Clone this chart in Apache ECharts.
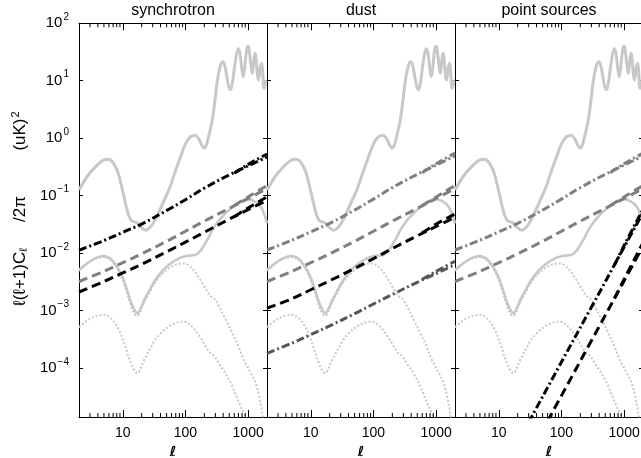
<!DOCTYPE html>
<html><head><meta charset="utf-8">
<script src="https://cdn.jsdelivr.net/npm/echarts@6/dist/echarts.min.js"></script>
<style>html,body{margin:0;padding:0;background:#fff}#c{width:641px;height:458px}</style>
</head><body><div id="c"></div>
<script>
// ---------- data ----------
const panelTitles = ['synchrotron', 'dust', 'point sources'];
const xTickLabels = [10, 100, 1000];
const yTickExponents = [-4, -3, -2, -1, 0, 1, 2];
const minorTickElls = [3,4,5,6,7,8,9,20,30,40,50,60,70,80,90,200,300,400,500,600,700,800,900];

// CMB E-mode spectrum (solid light gray, top)
const ellEE = [2,2.5,3,4,5,5.7,6.5,7.5,8.5,9.8,11,12.2,13.4,15,16.5,19,23,28,33,38,45,55,70,85,101,120,142,160,180,198,215,240,268,295,322,355,387,420,455,490,525,560,600,650,697,740,790,837,880,930,970,1005,1045,1100,1165,1225,1286,1330,1390,1452,1500,1560,1645,1700,1792,1850,1900,2000];
const EE = [0.125,0.19,0.25,0.35,0.42,0.43,0.41,0.33,0.24,0.13,0.075,0.048,0.038,0.035,0.034,0.029,0.025,0.029,0.038,0.053,0.08,0.13,0.28,0.5,0.81,1.05,1.13,1.0,0.78,0.67,0.75,1.2,2.1,4.5,10,17,21.5,19,12,8,7,9,16,28,36,30,17,11.8,16,30,39,40,33,20,13.5,21,30,26,15,10.3,12,17,20,15,7.4,8,9.6,10];

// total B-mode (solid light gray, lower)
const ellBB = [2,3,4,5,6,7,8.5,9.8,11.5,13.5,15.5,17,19,22,27,33,45,60,79,100,125,146,175,200,223,268,330,400,494,600,750,914,1050,1200,1350,1500,1650,1800,1900,2000];
const BB = [0.0051,0.0072,0.0085,0.0089,0.0083,0.0072,0.0053,0.0039,0.0024,0.0014,0.001,0.00089,0.00105,0.0015,0.0023,0.0034,0.0052,0.0068,0.0081,0.0088,0.0091,0.0093,0.011,0.014,0.0169,0.025,0.035,0.045,0.056,0.066,0.078,0.086,0.086,0.082,0.076,0.069,0.06,0.048,0.04,0.033];

// tensor B-modes (dotted light gray)
const ellTensHi = [2,3,4,5,6,7,8.5,9.8,11.5,13.5,15.5,17,19,22,27,33,45,60,79,95,115,140,170,210,250,290,340,437,550,700,850,1000,1150,1322,1500,1683,1850];
const tensHi = [0.0049,0.007,0.0082,0.0085,0.0079,0.0068,0.0049,0.0035,0.0021,0.0012,0.00085,0.00081,0.00095,0.0014,0.0021,0.0031,0.0046,0.0058,0.0065,0.0066,0.006,0.0048,0.0035,0.0024,0.0018,0.0016,0.0012,0.0007,0.00042,0.00024,0.00014,0.0001,0.000075,0.000054,0.000032,0.000016,0.000008];
const ellTensLo = [2,3,4,5,6,7,8.5,9.8,11.5,13.5,15.5,17,19,22,27,33,45,60,79,95,115,140,170,210,250,290,340,437,550,700,859,1000];
const tensLo = [0.00051,0.00072,0.00082,0.00084,0.00078,0.00067,0.00048,0.00033,0.0002,0.00012,0.000088,0.000081,0.000095,0.00014,0.00021,0.00031,0.00045,0.00056,0.00063,0.00064,0.00058,0.00047,0.00035,0.00024,0.00018,0.00016,0.00012,0.00008,0.00005,0.000026,0.000016,0.00001];

// foregrounds
const ellFg = [2,5,10,20,50,100,200,500,1000,2000];
const ellTwin = [600,1000,2000];
const syncDashDot = [0.0112,0.0165,0.023,0.032,0.055,0.085,0.135,0.23,0.33,0.47];
const syncDashDotTwin = [0.245,0.35,0.53];
const syncDashGray = [0.0032,0.0048,0.0068,0.0097,0.016,0.024,0.036,0.06,0.089,0.133];
const syncDashGrayTwin = [0.067,0.095,0.15];
const syncDashBlack = [0.0021,0.0032,0.0045,0.0064,0.0105,0.0155,0.023,0.039,0.057,0.083];
const syncDashBlackTwin = [0.043,0.061,0.095];

const dustDashDotGray = [0.0113,0.0168,0.0235,0.033,0.056,0.087,0.138,0.235,0.34,0.49];
const dustDashDotGrayTwin = [0.25,0.36,0.55];
const dustDashGray = [0.0032,0.0048,0.0068,0.0097,0.016,0.024,0.036,0.06,0.089,0.133];
const dustDashGrayTwin = [0.067,0.095,0.15];
const dustDashBlack = [0.0011,0.0016,0.0023,0.0033,0.0054,0.008,0.012,0.02,0.029,0.042];
const dustDashBlackTwin = [0.0225,0.032,0.048];
const dustDashDotDark = [0.00018,0.00027,0.00038,0.00054,0.00088,0.0013,0.0019,0.0031,0.0044,0.0063];
const dustDashDotDarkTwin = [0.0035,0.0048,0.0072];

const psDashDotGray = [0.0113,0.0168,0.0235,0.033,0.056,0.087,0.138,0.235,0.34,0.49];
const psDashDotGrayTwin = [0.25,0.36,0.55];
const psDashGray = [0.0032,0.0048,0.0068,0.0097,0.016,0.024,0.036,0.06,0.089,0.133];
const psDashGrayTwin = [0.067,0.095,0.15];
const ellPsDashDot = [30,100,300,1000,2000];
const psDashDotBlack = [0.0000114,0.000127,0.00114,0.0127,0.0506];
const ellPsDashDotTwin = [700,1000,2000];
const psDashDotBlackTwin = [0.0062,0.0136,0.058];
const ellPsDash = [60,100,300,1000,2000];
const psDashBlack = [0.0000119,0.000033,0.000297,0.0033,0.0132];
const ellPsDashTwin = [700,1000,2000];
const psDashBlackTwin = [0.00162,0.0035,0.0152];

// y-axis title pieces
const yTitlePieces = ['\u2113(\u2113+1)C{sub|\u2113}', '/2\u03c0', '(uK){sup|2}'];

// ---------- styling / layout ----------
const X_MIN = 2, X_MAX = 2000, Y_MIN = 1.4e-5, Y_MAX = 100;
const GRID_TOP = 23.3, GRID_H = 393.7, GRID_W = 188;
const gridLefts = [79, 267, 455];
const yTitleCenters = [277, 209, 131];
const FONT = 'Liberation Sans, Arial, Helvetica, sans-serif';
const LIGHT = '#c8c8c8', MID = '#7f7f7f', DARK = '#555555', BLACK = '#000000';
const DASH = [9, 5], DASHDOT = [8, 3, 2, 3], DOT = [2, 2];

function pairs(xs, ys) { return xs.map((x, i) => [x, ys[i]]); }
function isPow10(v) { const l = Math.log10(v); return Math.abs(l - Math.round(l)) < 1e-6; }

const SUPMINUS = '\u2212';
function yFmt(v) {
  if (!isPow10(v)) return '';
  const e = Math.round(Math.log10(v));
  return '{b|10}{s|' + (e < 0 ? SUPMINUS + (-e) : e) + '}';
}
function xFmt(v) {
  if (!isPow10(v)) return '';
  const r = Math.round(v);
  return xTickLabels.indexOf(r) >= 0 ? String(r) : '';
}

const grids = [], xAxes = [], yAxes = [], series = [];
gridLefts.forEach((left, g) => {
  grids.push({ left: left, top: GRID_TOP, width: GRID_W, height: GRID_H, containLabel: false, outerBoundsMode: 'none' });
  ['bottom', 'top'].forEach(pos => {
    xAxes.push({
      type: 'log', logBase: 10, gridIndex: g, position: pos, min: X_MIN, max: X_MAX,
      axisLine: { show: true, onZero: false, lineStyle: { color: BLACK, width: 1 } },
      axisTick: { show: true, inside: true, length: 7, lineStyle: { color: BLACK, width: 1 } },
      minorTick: { show: false }, splitLine: { show: false }, minorSplitLine: { show: false },
      axisLabel: { show: pos === 'bottom', margin: 9, color: BLACK, fontFamily: FONT, fontSize: 14, formatter: xFmt },
      name: pos === 'bottom' ? '\u2113' : '', nameLocation: 'middle', nameGap: 20,
      nameTextStyle: { color: BLACK, fontFamily: 'DejaVu Sans', fontStyle: 'italic', fontWeight: 'bold', fontSize: 14 }
    });
  });
  ['left', 'right'].forEach(pos => {
    const isMain = g === 0 && pos === 'left';
    yAxes.push({
      type: 'log', logBase: 10, gridIndex: g, position: pos, min: Y_MIN, max: Y_MAX,
      axisLine: { show: true, onZero: false, lineStyle: { color: BLACK, width: 1 } },
      axisTick: { show: true, inside: true, length: 4, lineStyle: { color: BLACK, width: 1 } },
      minorTick: { show: false }, splitLine: { show: false }, minorSplitLine: { show: false },
      axisLabel: {
        show: isMain, margin: 10, color: BLACK, formatter: yFmt,
        rich: {
          b: { fontFamily: FONT, fontSize: 15, color: BLACK, lineHeight: 16 },
          s: { fontFamily: FONT, fontSize: 10, color: BLACK, lineHeight: 10, padding: [0, 0, 12, 1] }
        }
      }
    });
  });
});

function addLine(g, data, color, width, type, z) {
  series.push({
    type: 'line', xAxisIndex: 2 * g, yAxisIndex: 2 * g, data: data,
    showSymbol: false, symbol: 'none', smooth: 0.35, clip: true, silent: true, z: z || 2,
    lineStyle: { color: color, width: width, type: type, cap: 'butt', join: 'round' }
  });
}

const fgByPanel = [
  [
    [pairs(ellFg, syncDashDot), BLACK, DASHDOT], [pairs(ellTwin, syncDashDotTwin), BLACK, DASHDOT],
    [pairs(ellFg, syncDashGray), MID, DASH], [pairs(ellTwin, syncDashGrayTwin), MID, DASH],
    [pairs(ellFg, syncDashBlack), BLACK, DASH], [pairs(ellTwin, syncDashBlackTwin), BLACK, DASH]
  ],
  [
    [pairs(ellFg, dustDashDotGray), MID, DASHDOT], [pairs(ellTwin, dustDashDotGrayTwin), MID, DASHDOT],
    [pairs(ellFg, dustDashGray), MID, DASH], [pairs(ellTwin, dustDashGrayTwin), MID, DASH],
    [pairs(ellFg, dustDashBlack), BLACK, DASH], [pairs(ellTwin, dustDashBlackTwin), BLACK, DASH],
    [pairs(ellFg, dustDashDotDark), DARK, DASHDOT], [pairs(ellTwin, dustDashDotDarkTwin), DARK, DASHDOT]
  ],
  [
    [pairs(ellFg, psDashDotGray), MID, DASHDOT], [pairs(ellTwin, psDashDotGrayTwin), MID, DASHDOT],
    [pairs(ellFg, psDashGray), MID, DASH], [pairs(ellTwin, psDashGrayTwin), MID, DASH],
    [pairs(ellPsDashDot, psDashDotBlack), BLACK, DASHDOT], [pairs(ellPsDashDotTwin, psDashDotBlackTwin), BLACK, DASHDOT],
    [pairs(ellPsDash, psDashBlack), BLACK, DASH], [pairs(ellPsDashTwin, psDashBlackTwin), BLACK, DASH]
  ]
];

for (let g = 0; g < 3; g++) {
  addLine(g, pairs(ellTensLo, tensLo), LIGHT, 2, DOT, 2);
  addLine(g, pairs(ellTensHi, tensHi), LIGHT, 2, DOT, 2);
  addLine(g, pairs(ellBB, BB), LIGHT, 2.6, 'solid', 3);
  addLine(g, pairs(ellEE, EE), LIGHT, 3, 'solid', 3);
  fgByPanel[g].forEach(f => addLine(g, f[0], f[1], 3, f[2], 4));
  // minor x ticks (bottom and top), positioned through the log axis
  series.push({
    type: 'custom', xAxisIndex: 2 * g, yAxisIndex: 2 * g, silent: true, z: 5,
    data: minorTickElls.map(v => [v, 1]),
    renderItem: function (params, api) {
      const cs = params.coordSys;
      const x = api.coord([api.value(0), api.value(1)])[0];
      const yb = cs.y + cs.height, yt = cs.y;
      return { type: 'group', children: [
        { type: 'line', shape: { x1: x, y1: yb, x2: x, y2: yb - 4 }, style: { stroke: BLACK, lineWidth: 1 } },
        { type: 'line', shape: { x1: x, y1: yt, x2: x, y2: yt + 4 }, style: { stroke: BLACK, lineWidth: 1 } }
      ] };
    }
  });
}

const graphics = panelTitles.map((t, i) => ({
  type: 'text', x: gridLefts[i] + GRID_W / 2, y: 11,
  style: { text: t, fontFamily: FONT, fontSize: 16, fill: BLACK, align: 'center', verticalAlign: 'middle' }
}));
const yTitleRich = {
  sub: { fontFamily: FONT, fontSize: 11, fill: BLACK, padding: [8, 0, 0, 0] },
  sup: { fontFamily: FONT, fontSize: 11, fill: BLACK, padding: [0, 0, 9, 1] }
};
yTitlePieces.forEach((t, i) => {
  graphics.push({
    type: 'text', x: 20, y: yTitleCenters[i], rotation: Math.PI / 2,
    style: { text: t, fontFamily: FONT, fontSize: 17, fill: BLACK, align: 'center', verticalAlign: 'middle', rich: yTitleRich }
  });
});

const chart = echarts.init(document.getElementById('c'), null, { renderer: 'canvas' });
chart.setOption({
  animation: false,
  backgroundColor: '#ffffff',
  grid: grids, xAxis: xAxes, yAxis: yAxes, series: series,
  graphic: graphics
});
</script></body></html>
